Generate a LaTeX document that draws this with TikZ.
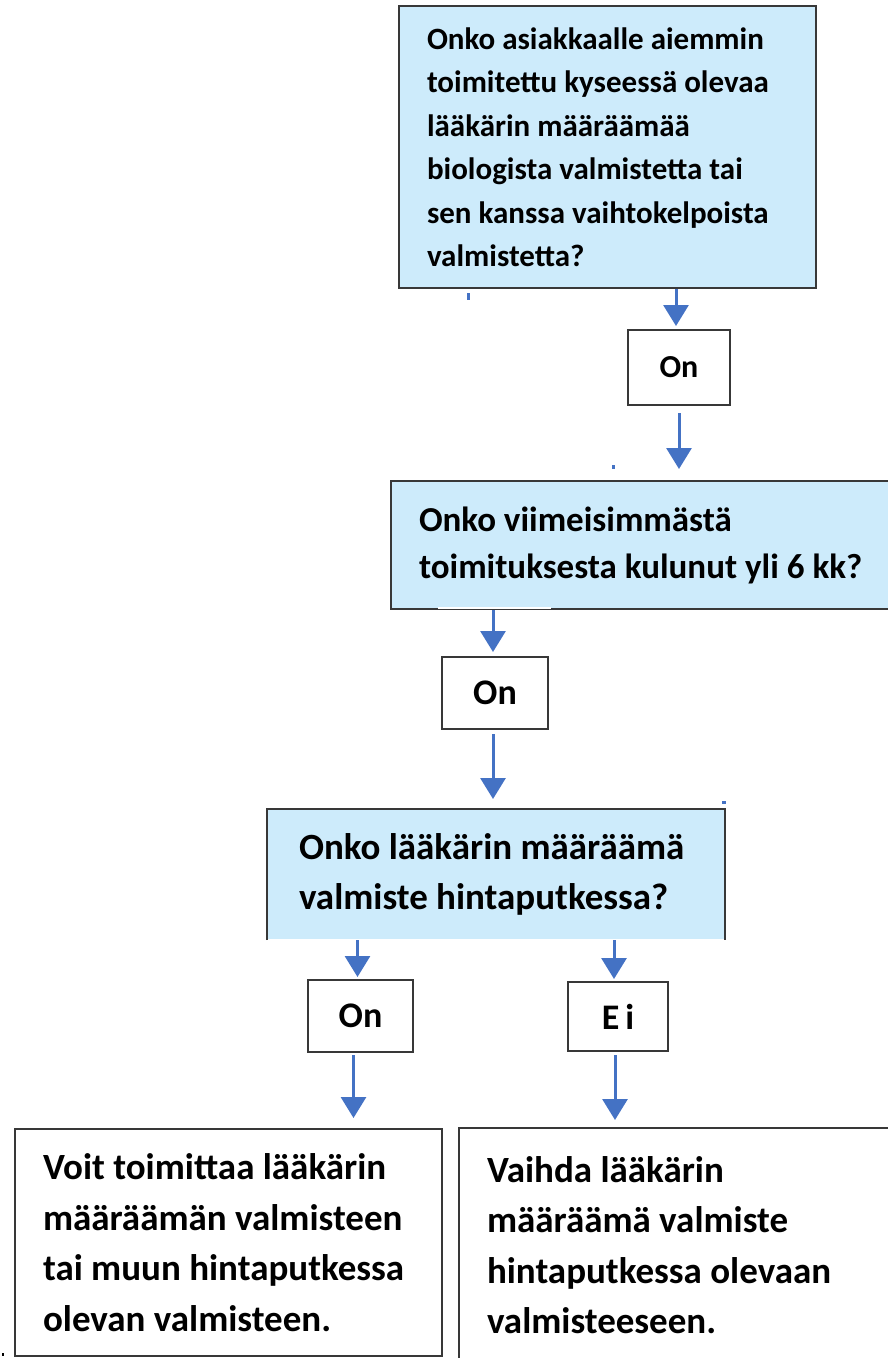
\documentclass[tikz,border=0pt]{standalone}
\usepackage{fontspec}
\setmainfont{Carlito}
\usetikzlibrary{arrows.meta}
\definecolor{qfill}{HTML}{CDEBFB}
\definecolor{edge}{HTML}{383838}
\definecolor{flow}{HTML}{4472C4}
\tikzset{
  qbox/.style={fill=qfill, draw=edge, line width=2pt, align=flush left, inner ysep=0pt,
               font=\bfseries, anchor=north west},
  abox/.style={fill=white, draw=edge, line width=2pt, align=flush left, inner ysep=0pt,
               font=\bfseries, anchor=north west},
  tag/.style={draw=edge, line width=2pt, fill=white, inner sep=0pt, font=\bfseries},
  arr/.style={draw=flow, line width=3pt, -{Triangle[width=25pt,length=21pt]}},
  speck/.style={fill=flow, draw=none}
}
\begin{document}
\begin{tikzpicture}[x=1pt, y=-1pt]
\useasboundingbox (0,0) rectangle (887,1358);

% question 1
\node[qbox, minimum width=417pt, minimum height=282pt, text width=361pt, inner xsep=28pt,
      font=\bfseries\fontsize{31}{43.5}\selectfont] (q1) at (398,5)
  {Onko asiakkaalle aiemmin\\ toimitettu kyseessä olevaa\\ lääkärin määräämää\\
   biologista valmistetta tai\\ sen kanssa vaihtokelpoista\\ valmistetta?};

\node[tag, minimum width=102pt, minimum height=75pt, font=\bfseries\fontsize{32}{38}\selectfont]
  (onA) at (679,367.5) {On};

% question 2
\node[qbox, minimum width=516pt, minimum height=128pt, text width=460pt, inner xsep=28pt,
      font=\bfseries\fontsize{35}{47}\selectfont] (q2) at (390,480)
  {Onko viimeisimmästä\\ toimituksesta kulunut yli 6 kk?};
\draw[white, line width=2.5pt] (438,608) -- (551,608);

\node[tag, minimum width=106pt, minimum height=72pt, font=\bfseries\fontsize{36}{42}\selectfont]
  (onB) at (495,693) {On};

% question 3 (open at the bottom)
\node[qbox, draw=none, minimum width=456pt, minimum height=129pt, text width=394pt, inner xsep=31pt,
      font=\bfseries\fontsize{37}{50}\selectfont] (q3) at (267,809)
  {Onko lääkärin määräämä\\ valmiste hintaputkessa?};
\draw[edge, line width=2pt] (q3.south west) -- (q3.north west) -- (q3.north east) -- (q3.south east);

\node[tag, minimum width=105pt, minimum height=72pt, font=\bfseries\fontsize{36}{42}\selectfont]
  (onC) at (360.5,1016) {On};
\node[tag, minimum width=100pt, minimum height=69pt, font=\bfseries\fontsize{36}{42}\selectfont]
  (ei) at (618,1016.5) {E\,i};

% outcomes
\node[abox, minimum width=427pt, minimum height=227pt, text width=371pt, inner xsep=28pt,
      font=\bfseries\fontsize{37}{50.5}\selectfont] (r1) at (14,1128)
  {Voit toimittaa lääkärin\\ määräämän valmisteen\\ tai muun hintaputkessa\\ olevan valmisteen.};
\node[abox, minimum width=442pt, minimum height=234pt, text width=386pt, inner xsep=28pt,
      font=\bfseries\fontsize{37}{50.5}\selectfont] (r2) at (458,1127)
  {Vaihda lääkärin\\ määräämä valmiste\\ hintaputkessa olevaan\\ valmisteeseen.};

% connectors
\draw[arr, shorten >=3pt] ([xshift=-3pt]onA.north |- q1.south) -- ([xshift=-3pt]onA.north);
\draw[arr, shorten <=7pt, shorten >=11pt] (onA.south) -- (onA.south |- q2.north);
\draw[arr, shorten >=4pt] ([xshift=-2pt]onB.north |- q2.south) -- ([xshift=-2pt]onB.north);
\draw[arr, shorten <=4pt, shorten >=10pt] ([xshift=-2pt]onB.south) -- ([xshift=-2pt]onB.south |- q3.north);
\draw[arr, shorten >=2pt] ([xshift=-3pt]onC.north |- q3.south) -- ([xshift=-3pt]onC.north);
\draw[arr, shorten <=2pt, shorten >=10pt] ([xshift=-7pt]onC.south) -- ([xshift=-7pt]onC.south |- r1.north);
\draw[arr, shorten >=2pt] ([xshift=-4pt]ei.north |- q3.south) -- ([xshift=-4pt]ei.north);
\draw[arr, shorten <=3pt, shorten >=7pt] ([xshift=-3pt]ei.south) -- ([xshift=-3pt]ei.south |- r2.north);

% small specks
\fill[speck] (467,293) rectangle (470,300);
\fill[speck] (612,465) rectangle (615,469);
\fill[speck] (722,801) rectangle (726,804);
\fill[black] (2,1353) rectangle (4,1356);
\end{tikzpicture}
\end{document}
